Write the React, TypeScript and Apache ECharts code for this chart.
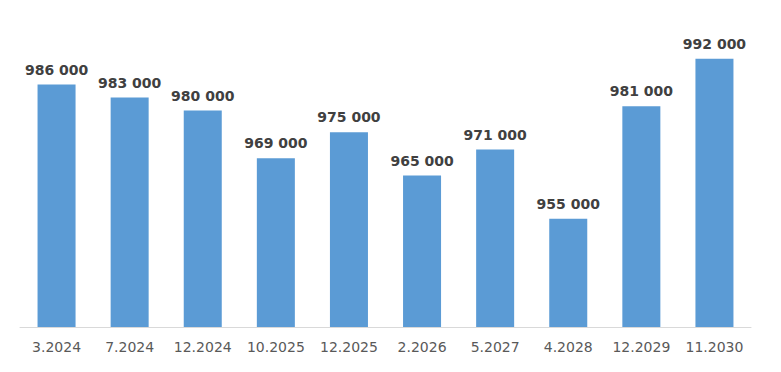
import React, { useEffect, useRef } from "react";
import * as echarts from "echarts";

const categories = ["3.2024", "7.2024", "12.2024", "10.2025", "12.2025", "2.2026", "5.2027", "4.2028", "12.2029", "11.2030"];
const values = [986000, 983000, 980000, 969000, 975000, 965000, 971000, 955000, 981000, 992000];

const fmt = (v: number) => String(v).replace(/\B(?=(\d{3})+(?!\d))/g, " ");

export default function App() {
  const ref = useRef<HTMLDivElement>(null);
  useEffect(() => {
    const chart = echarts.init(ref.current!, null, { renderer: "svg" });
    chart.setOption({
      animation: false,
      grid: { left: 20, right: 30, top: 24, bottom: 45 },
      xAxis: {
        type: "category",
        data: categories,
        axisLine: { lineStyle: { color: "#d9d9d9" } },
        axisTick: { show: false },
        axisLabel: { interval: 0, color: "#595959", fontSize: 14, fontFamily: "DejaVu Sans", margin: 13 },
      },
      yAxis: {
        type: "value",
        min: 930000,
        max: 1000000,
        show: false,
        splitLine: { show: false },
      },
      series: [
        {
          type: "bar",
          data: values,
          barWidth: "52%",
          itemStyle: { color: "#5b9bd5" },
          label: {
            show: true,
            position: "top",
            distance: 8,
            color: "#404040",
            fontSize: 14,
            fontWeight: "bold",
            fontFamily: "DejaVu Sans",
            formatter: (p: any) => fmt(p.value),
          },
        },
      ],
    });
    return () => chart.dispose();
  }, []);
  return <div ref={ref} style={{ width: 781, height: 372, position: "absolute", left: 0, top: 0 }} />;
}
